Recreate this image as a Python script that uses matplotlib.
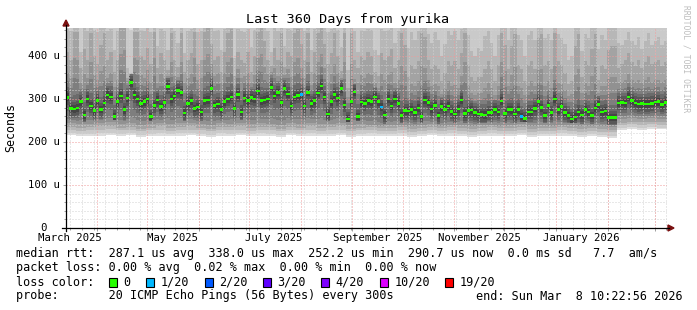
import numpy as np
import matplotlib
matplotlib.use("Agg")
import matplotlib.pyplot as plt
import matplotlib.dates as mdates
from matplotlib.patches import Polygon, Rectangle
from matplotlib.lines import Line2D
from datetime import datetime, timedelta

# ---------------- data ----------------
start = datetime(2025, 3, 13, 10, 22, 56)
end = datetime(2026, 3, 8, 10, 22, 56)
bin_days = 2

median_us = [304, 278, 277, 279, 294, 263, 300, 284, 273, 296,
             276, 291, 309, 305, 259, 294, 307, 275, 302, 338,
             309, 300, 290, 294, 300, 259, 285, 298, 282, 292,
             329, 300, 307, 320,
             315, 267, 290, 296, 278, 281, 270, 296, 298, 325,
             285, 288, 276, 294, 300, 305, 278, 310, 270, 302,
             296, 303, 300, 319, 296, 298, 300, 327, 307, 315,
             292, 324, 312,
             284, 305, 308, 310, 284, 315, 290, 296, 314, 330,
             305, 265, 294, 310, 302, 324, 286, 253, 294, 316,
             259, 293, 290, 296, 294, 305, 294, 281, 263, 300,
             284, 300, 290,
             262, 273, 272, 276, 269, 279, 259, 298, 292, 277,
             285, 262, 282, 276, 284, 271, 265, 277, 298, 266,
             273, 274, 268, 265, 264, 263, 269, 268, 276, 270,
             295, 266, 276,
             275, 265, 275, 259, 255, 270, 270, 278, 294, 280,
             262, 285, 268, 300, 275, 283, 268, 262, 253, 258,
             270, 263, 276, 270, 262, 279, 287, 270, 272, 257,
             257, 257, 291,
             292, 291, 305, 296, 291, 288, 289, 288, 288, 290,
             293, 294, 287, 292]

loss_1_of_20_bins = [70, 94, 136]

# upper smoke edges (per 2-day bin)
ping_hi2_us = [480, 480, 480, 480, 420, 480, 480, 480, 480, 480,
               480, 480, 480, 480, 430, 480, 480, 480, 380, 360,
               480, 480, 480, 480, 480, 480, 480, 440, 480, 480,
               430, 480, 480, 450,
               480, 420, 480, 480, 480, 480, 480, 480, 480, 480,
               480, 480, 430, 480, 480, 480, 410, 480, 480, 480,
               480, 440, 480, 480, 480, 480, 480, 420, 480, 480,
               480, 440, 480,
               480, 480, 480, 480, 480, 480, 430, 480, 480, 480,
               480, 480, 480, 480, 480, 440, 480, 380, 480, 480,
               420, 480, 480, 480, 480, 430, 420, 480, 480, 480,
               480, 450, 480,
               480, 480, 440, 480, 460, 480, 480, 480, 470, 450,
               480, 460, 420, 450, 480, 470, 480, 460, 480, 480,
               470, 430, 420, 440, 430, 470, 480, 450, 420, 470,
               480, 480, 460,
               480, 480, 470, 460, 420, 470, 480, 460, 480, 480,
               460, 470, 460, 480, 470, 460, 450, 410, 420, 480,
               460, 430, 470, 460, 480, 480, 440, 470, 460, 480,
               480, 480, 450,
               440, 450, 470, 450, 440, 460, 430, 450, 470, 440,
               450, 460, 440, 450]
ping_hi3_us = [420, 400, 470, 470, 380, 430, 400, 470, 410, 390,
               440, 470, 400, 420, 370, 400, 480, 480, 350, 345,
               470, 470, 410, 400, 430, 390, 470, 380, 420, 400,
               370, 470, 400, 380,
               470, 370, 400, 420, 470, 390, 400, 470, 480, 440,
               400, 410, 370, 420, 470, 480, 360, 420, 400, 390,
               420, 370, 410, 470, 480, 450, 400, 380, 430, 400,
               470, 380, 420,
               410, 470, 480, 440, 400, 470, 370, 420, 470, 480,
               440, 390, 420, 470, 410, 370, 470, 330, 470, 400,
               380, 410, 400, 420, 410, 370, 360, 420, 400, 410,
               430, 380, 400,
               470, 440, 360, 390, 380, 400, 470, 460, 400, 380,
               390, 380, 350, 370, 400, 390, 400, 380, 420, 470,
               390, 360, 350, 360, 360, 380, 400, 380, 350, 390,
               470, 440, 380,
               440, 470, 390, 380, 350, 390, 400, 380, 460, 470,
               390, 400, 380, 470, 400, 390, 370, 340, 350, 440,
               470, 360, 400, 390, 430, 470, 350, 390, 380, 430,
               440, 440, 380,
               390, 400, 420, 395, 385, 400, 380, 395, 410, 390,
               395, 400, 385, 395]
ping_hi4_us = [350, 340, 380, 375, 330, 345, 340, 370, 345, 335,
               350, 360, 340, 350, 320, 335, 390, 400, 340, 342,
               380, 375, 345, 340, 355, 330, 380, 330, 345, 340,
               345, 370, 345, 345,
               370, 330, 340, 345, 380, 335, 340, 375, 390, 370,
               345, 350, 330, 350, 370, 380, 325, 360, 340, 345,
               350, 330, 345, 380, 390, 360, 350, 360, 360, 345,
               370, 350, 360,
               340, 370, 380, 360, 340, 370, 325, 350, 370, 390,
               360, 330, 345, 365, 350, 335, 370, 300, 365, 330,
               330, 345, 340, 350, 345, 330, 320, 345, 335, 345,
               350, 330, 335,
               360, 350, 310, 325, 320, 330, 360, 355, 335, 320,
               325, 320, 305, 315, 330, 320, 320, 315, 340, 370,
               320, 305, 300, 305, 305, 315, 325, 315, 300, 320,
               370, 350, 320,
               340, 355, 320, 315, 300, 320, 330, 320, 350, 350,
               320, 330, 315, 360, 325, 325, 310, 300, 305, 340,
               350, 305, 325, 320, 340, 355, 300, 320, 320, 330,
               335, 335, 330,
               330, 335, 345, 335, 330, 335, 330, 335, 340, 330,
               335, 335, 330, 335]
ping_max_clip_us = 480

# lower smoke edges (per 6-day block)
ping_min_us = [216, 214, 213, 215, 217, 214, 216, 212, 214, 215,
               213, 215, 216, 214, 212, 215, 214, 216, 213, 215,
               214, 212, 216, 214, 215, 213, 214, 216, 212, 214,
               215, 213, 214, 215, 212, 214, 216, 213, 215, 214,
               212, 214, 215, 213, 214, 216, 212, 214, 213, 215,
               214, 212, 213, 211, 210, 228, 230, 229, 231, 230]
ping_lo2_us = [225, 223, 224, 226, 227, 224, 225, 222, 224, 226,
               223, 225, 226, 224, 222, 225, 224, 226, 223, 225,
               224, 222, 225, 224, 226, 223, 224, 226, 222, 224,
               225, 223, 224, 225, 222, 224, 226, 223, 225, 224,
               222, 224, 225, 223, 224, 226, 222, 224, 223, 225,
               224, 222, 223, 221, 220, 236, 238, 237, 238, 237]
ping_lo3_us = [236, 233, 235, 237, 238, 234, 236, 232, 234, 237,
               233, 236, 237, 234, 232, 236, 235, 237, 233, 236,
               235, 232, 236, 234, 237, 233, 235, 237, 232, 234,
               234, 232, 233, 234, 231, 233, 235, 232, 234, 233,
               231, 233, 234, 232, 233, 235, 231, 233, 232, 234,
               233, 231, 232, 230, 229, 246, 248, 247, 248, 247]
ping_lo4_us = [250, 247, 248, 251, 252, 247, 250, 246, 248, 251,
               247, 250, 251, 248, 245, 249, 248, 251, 247, 250,
               249, 245, 250, 248, 251, 247, 249, 251, 246, 248,
               245, 243, 244, 245, 242, 244, 246, 243, 245, 244,
               242, 244, 245, 243, 244, 246, 242, 244, 243, 245,
               244, 242, 243, 241, 240, 258, 260, 259, 260, 259]

y_tick_values = [0, 100, 200, 300, 400]
y_tick_labels = ["0  ", "100 u", "200 u", "300 u", "400 u"]
x_label_texts = ["March 2025", "May 2025", "July 2025", "September 2025",
                 "November 2025", "January 2026"]
x_label_dates = [datetime(2025, 3, 16), datetime(2025, 5, 16), datetime(2025, 7, 16),
                 datetime(2025, 9, 16), datetime(2025, 11, 16), datetime(2026, 1, 16)]

legend_lines = [
    "median rtt:  287.1 us avg  338.0 us max  252.2 us min  290.7 us now  0.0 ms sd   7.7  am/s",
    "packet loss: 0.00 % avg  0.02 % max  0.00 % min  0.00 % now",
    "loss color:",
    "probe:       20 ICMP Echo Pings (56 Bytes) every 300s",
]
end_text = "end: Sun Mar  8 10:22:56 2026"
loss_labels = ["0", "1/20", "2/20", "3/20", "4/20", "10/20", "19/20"]
loss_colors = ["#26ff00", "#00b8ff", "#0059ff", "#5e00ff", "#7e00ff", "#dd00ff", "#ff0000"]

# ---------------- figure ----------------
W, H, DPI = 697, 310, 100
MONO = "DejaVu Sans Mono"
fig = plt.figure(figsize=(W / DPI, H / DPI), dpi=DPI, facecolor="white")


def fx(px):
    return px / W


def fy(py):
    return 1 - py / H


ax = fig.add_axes([fx(66), fy(228), 601 / W, 200 / H])
ax.set_facecolor("white")
for s in ax.spines.values():
    s.set_visible(False)

n = len(median_us)
edges = [start + timedelta(days=bin_days * i) for i in range(n + 1)]
xe = mdates.date2num(edges)
ax.set_xlim(xe[0], xe[-1])
ax.set_ylim(0, 465)

med = np.asarray(median_us, dtype=float)
lo1 = np.repeat(ping_min_us, 3).astype(float)
lo2 = np.repeat(ping_lo2_us, 3).astype(float)
lo3 = np.repeat(ping_lo3_us, 3).astype(float)
lo4 = np.repeat(ping_lo4_us, 3).astype(float)
hi2 = np.asarray(ping_hi2_us, dtype=float)
hi3 = np.asarray(ping_hi3_us, dtype=float)
hi4 = np.asarray(ping_hi4_us, dtype=float)

# smoke: grey level per quantile edge, quantised to smokeping's 10 shades
edge_grey = [222, 200, 172, 140, 104, 76, 58, 76, 110, 150, 178, 198, 214]
shades = np.array([221, 202, 183, 164, 145, 126, 107, 88, 69, 50], dtype=float)
yy = np.arange(0, ping_max_clip_us + 1, 0.5)
img = np.full((len(yy), n), 255.0)
for j in range(n):
    ys = np.array([lo1[j], lo2[j], lo3[j], lo4[j], med[j] - 20, med[j] - 8, med[j],
                   med[j] + 8, med[j] + 20, hi4[j], hi3[j], hi2[j], ping_max_clip_us])
    ys[:6] = np.minimum(ys[:6], med[j])
    ys = np.maximum.accumulate(ys)
    g = np.interp(yy, ys, edge_grey)
    q = shades[np.argmin(np.abs(g[:, None] - shades[None, :]), axis=1)]
    q[yy < lo1[j]] = 255
    img[:, j] = q
ax.imshow(img, extent=[xe[0], xe[-1], yy[0] - 0.25, yy[-1] + 0.25], origin="lower",
          aspect="auto", cmap="gray", vmin=0, vmax=255, interpolation="nearest", zorder=1)

# grid
dot = (0, (1, 2))
weeks = []
wk = datetime(2025, 3, 16)
while wk < end:
    weeks.append(mdates.date2num(wk))
    wk += timedelta(days=7)
for w in weeks:
    ax.axvline(w, color="#d2d2d2", lw=0.72, ls=dot, zorder=3)
minor_y = [v for v in range(20, 465, 20) if v % 100]
for v in minor_y:
    ax.axhline(v, color="#d2d2d2", lw=0.72, ls=dot, zorder=3)
month_starts = []
y_, m_ = 2025, 4
while datetime(y_, m_, 1) < end:
    month_starts.append(datetime(y_, m_, 1))
    m_ += 1
    if m_ > 12:
        m_, y_ = 1, y_ + 1
for d in month_starts:
    ax.axvline(mdates.date2num(d), color="#f09a9a", lw=0.72, ls=dot, zorder=3)
for v in y_tick_values[1:]:
    ax.axhline(v, color="#f09a9a", lw=0.72, ls=dot, zorder=3)

# median markers
mcols = [loss_colors[1] if i in loss_1_of_20_bins else loss_colors[0] for i in range(n)]
ax.bar(xe[:-1], 6.0, width=bin_days, bottom=med - 3.0, align="edge",
       color=mcols, lw=0, zorder=4)

# ticks
ax.set_yticks(y_tick_values)
ax.set_yticks(minor_y, minor=True)
ax.set_xticks(mdates.date2num(month_starts))
ax.set_xticks(weeks, minor=True)
ax.tick_params(which="both", labelleft=False, labelbottom=False, direction="out",
               color="#a0a0a0", width=0.72)
ax.tick_params(which="major", length=2.2)
ax.tick_params(which="minor", length=1.5)

for v, lab in zip(y_tick_values, y_tick_labels):
    ax.text(-6 / 601, v, lab, transform=ax.get_yaxis_transform(), ha="right",
            va="center", family=MONO, size=7.7, color="black")
for d, lab in zip(x_label_dates, x_label_texts):
    ax.text(mdates.date2num(d), -10 / 200, lab, transform=ax.get_xaxis_transform(),
            ha="center", va="center", family=MONO, size=7.7, color="black")

# axis lines + arrows
fig.add_artist(Line2D([fx(62), fx(669)], [fy(228), fy(228)], color="black", lw=0.9,
                      transform=fig.transFigure))
fig.add_artist(Line2D([fx(66), fx(66)], [fy(231), fy(25)], color="black", lw=0.9,
                      transform=fig.transFigure))
fig.add_artist(Polygon([[fx(63), fy(26)], [fx(69), fy(26)], [fx(66), fy(20)]],
                       closed=True, color="#7a1010", transform=fig.transFigure))
fig.add_artist(Polygon([[fx(668), fy(225)], [fx(668), fy(231)], [fx(674), fy(228)]],
                       closed=True, color="#7a1010", transform=fig.transFigure))

# texts
fig.text(fx(348), fy(19), "Last 360 Days from yurika", ha="center", va="center",
         family=MONO, size=9.7)
fig.text(fx(11), fy(128), "Seconds", rotation=90, ha="center", va="center",
         family=MONO, size=8.4)
fig.text(fx(686), fy(5), "RRDTOOL / TOBI OETIKER", rotation=270, ha="center", va="top",
         family=MONO, size=5.8, color="#bdbdbd")

for k, line in enumerate(legend_lines):
    fig.text(fx(16), fy(254 + 14 * k), line, ha="left", va="center", family=MONO, size=8.5)
fig.text(fx(683), fy(296), end_text, ha="right", va="center", family=MONO, size=8.5)

box_x = [108.5, 146, 204.5, 262.5, 320.5, 379.5, 444.5]
for bx, lab, c in zip(box_x, loss_labels, loss_colors):
    fig.add_artist(Rectangle((fx(bx), fy(286.5)), 8 / W, 9 / H, facecolor=c,
                             edgecolor="black", lw=0.8, transform=fig.transFigure))
    fig.text(fx(bx + 15), fy(282), lab, ha="left", va="center", family=MONO, size=8.5)

fig.savefig("out.png", dpi=DPI, facecolor="white")
